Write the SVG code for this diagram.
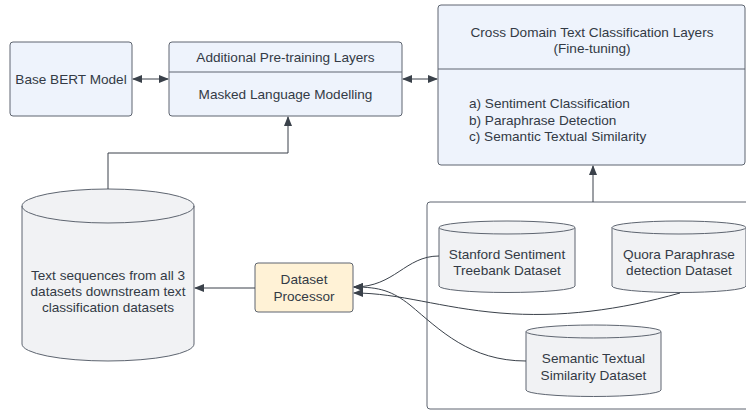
<svg xmlns="http://www.w3.org/2000/svg" width="746" height="410" viewBox="0 0 746 410">
<defs>
<marker id="ah" viewBox="0 0 10 10" refX="9" refY="5" markerWidth="10" markerHeight="10" markerUnits="userSpaceOnUse" orient="auto-start-reverse">
<path d="M0,1 L10,5 L0,9 z" fill="#3a414a"/>
</marker>
<style>
text{font-family:"Liberation Sans",Arial,sans-serif;font-size:13.6px;fill:#333a45;}
.c{text-anchor:middle;}
.blue{fill:#eef3fc;stroke:#5e6570;stroke-width:1;}
.cyl{fill:#f1f2f4;stroke:#5e6570;stroke-width:1;}
.proc{fill:#fff2d6;stroke:#5e6570;stroke-width:1;}
.ln{fill:none;stroke:#5e6570;stroke-width:1;}
.con{fill:none;stroke:#3a414a;stroke-width:1;}
</style>
</defs>
<rect width="746" height="410" fill="#ffffff"/>

<g id="container">
<path class="ln" d="M746,202 L430,202 Q427,202 427,205 L427,406 Q427,409 430,409 L746,409"/>
</g>

<g id="base-bert">
<rect class="blue" x="10" y="42" width="122" height="74" rx="3"/>
<text class="c" x="71" y="83.5">Base BERT Model</text>
</g>

<g id="pretraining">
<rect class="blue" x="169" y="42" width="233" height="74" rx="3"/>
<line class="ln" x1="169" y1="72" x2="402" y2="72"/>
<text class="c" x="285.5" y="62">Additional Pre-training Layers</text>
<text class="c" x="285.5" y="98.5">Masked Language Modelling</text>
</g>

<g id="finetuning">
<rect class="blue" x="438" y="5" width="307" height="160" rx="3"/>
<line class="ln" x1="438" y1="69" x2="745" y2="69"/>
<text class="c" x="592" y="37">Cross Domain Text Classification Layers</text>
<text class="c" x="592" y="53">(Fine-tuning)</text>
<text x="469" y="108">a) Sentiment Classification</text>
<text x="469" y="124.5">b) Paraphrase Detection</text>
<text x="469" y="141">c) Semantic Textual Similarity</text>
</g>

<g id="text-sequences">
<path class="cyl" d="M22,206 A86,17 0 0 1 194,206 L194,344 A86,17 0 0 1 22,344 Z"/>
<path class="ln" d="M22,206 A86,17 0 0 0 194,206"/>
<text class="c" x="108" y="280">Text sequences from all 3</text>
<text class="c" x="108" y="296">datasets downstream text</text>
<text class="c" x="108" y="312">classification datasets</text>
</g>

<g id="dataset-processor">
<rect class="proc" x="255" y="263" width="98" height="49" rx="3"/>
<text class="c" x="304" y="284">Dataset</text>
<text class="c" x="304" y="301">Processor</text>
</g>

<g id="sst">
<path class="cyl" d="M439,227.5 A68,6.5 0 0 1 575,227.5 L575,286 A68,6.5 0 0 1 439,286 Z"/>
<path class="ln" d="M439,227.5 A68,6.5 0 0 0 575,227.5"/>
<text class="c" x="507" y="259">Stanford Sentiment</text>
<text class="c" x="507" y="275">Treebank Dataset</text>
</g>

<g id="quora">
<path class="cyl" d="M612,227.5 A67,6.5 0 0 1 746,227.5 L746,286 A67,6.5 0 0 1 612,286 Z"/>
<path class="ln" d="M612,227.5 A67,6.5 0 0 0 746,227.5"/>
<text class="c" x="679" y="259">Quora Paraphrase</text>
<text class="c" x="679" y="275">detection Dataset</text>
</g>

<g id="sts">
<path class="cyl" d="M526,331.5 A67.5,6.5 0 0 1 661,331.5 L661,390 A67.5,6.5 0 0 1 526,390 Z"/>
<path class="ln" d="M526,331.5 A67.5,6.5 0 0 0 661,331.5"/>
<text class="c" x="593.5" y="363">Semantic Textual</text>
<text class="c" x="593.5" y="380">Similarity Dataset</text>
</g>

<g id="connectors">
<line class="con" x1="133" y1="79" x2="168" y2="79" marker-start="url(#ah)" marker-end="url(#ah)"/>
<line class="con" x1="403" y1="79" x2="437" y2="79" marker-start="url(#ah)" marker-end="url(#ah)"/>
<path class="con" d="M108,189 L108,153 L288,153 L288,117" marker-end="url(#ah)"/>
<line class="con" x1="593" y1="202" x2="593" y2="166" marker-end="url(#ah)"/>
<line class="con" x1="255" y1="288" x2="195" y2="288" marker-end="url(#ah)"/>
<path class="con" d="M439,256 C405,256 395,287 354,287" marker-end="url(#ah)"/>
<path class="con" d="M680,293 C620,310 560,318 500,313 C440,308 400,293 354,293" marker-end="url(#ah)"/>
<path class="con" d="M526,361 C470,361 440,330 410,305 C392,291 380,287 354,287" marker-end="url(#ah)"/>
</g>
</svg>
